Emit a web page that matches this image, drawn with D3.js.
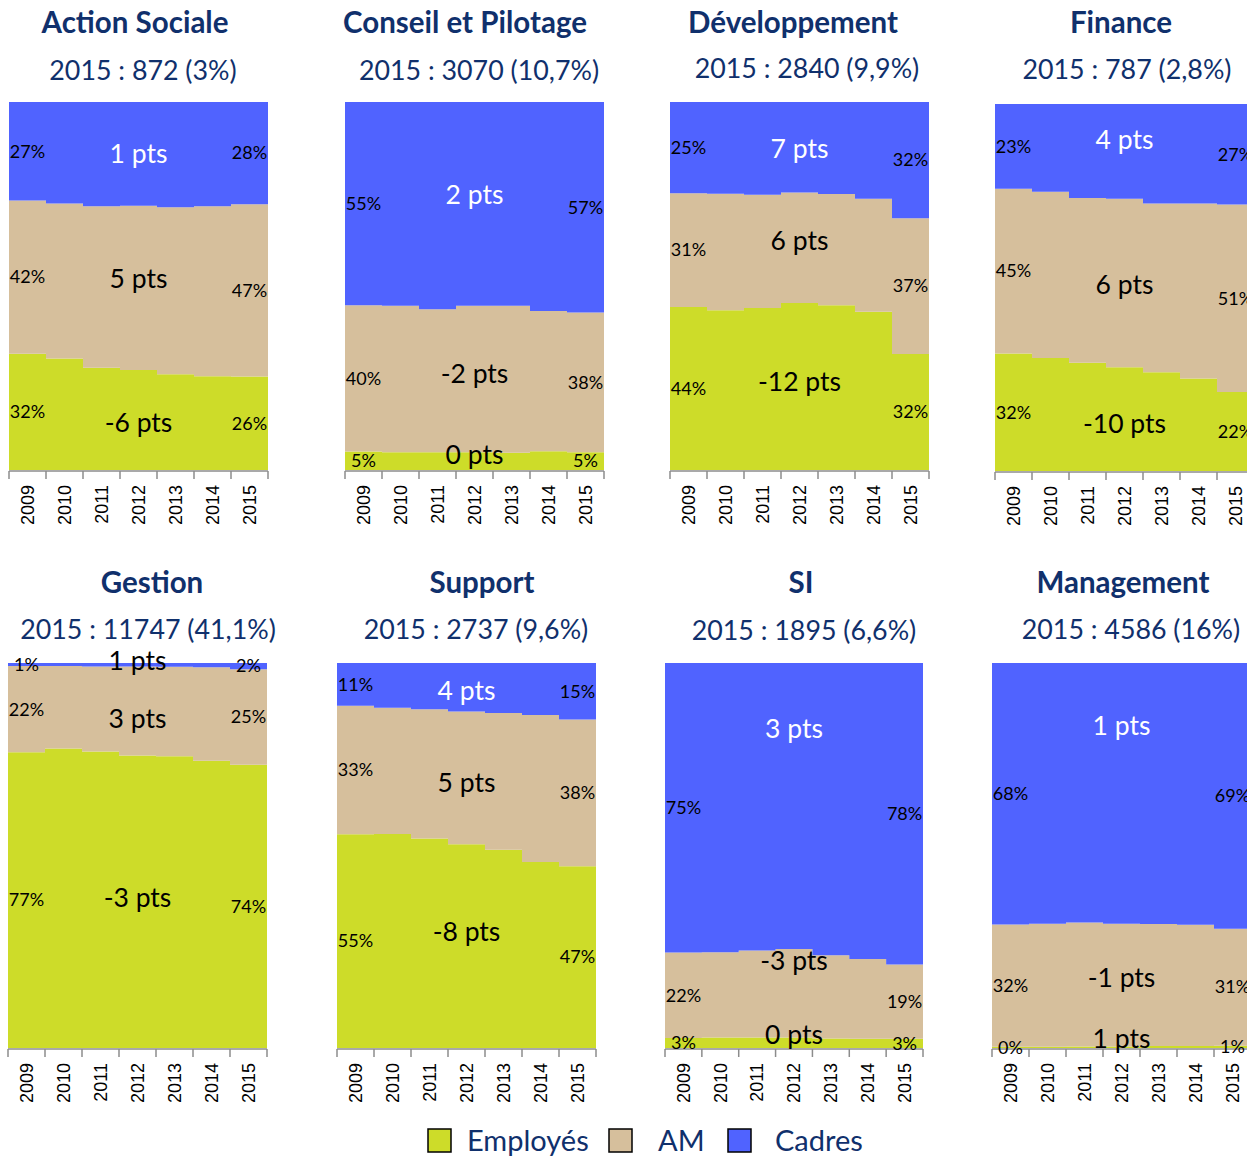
<!DOCTYPE html>
<html>
<head>
<meta charset="utf-8">
<script src="https://cdn.jsdelivr.net/npm/d3@7"></script>
<style>
  html, body { margin: 0; padding: 0; background: #fff; }
  svg { display: block; }
</style>
</head>
<body>
<svg id="chart" width="1247" height="1156"></svg>
<script>
// ---------------- DATA ----------------
const years = ["2009", "2010", "2011", "2012", "2013", "2014", "2015"];
const seriesNames = ["Employés", "AM", "Cadres"];
const titles = ["Action Sociale", "Conseil et Pilotage", "Développement", "Finance",
                "Gestion", "Support", "SI", "Management"];
const subtitles = ["2015 : 872 (3%)", "2015 : 3070 (10,7%)", "2015 : 2840 (9,9%)", "2015 : 787 (2,8%)",
                   "2015 : 11747 (41,1%)", "2015 : 2737 (9,6%)", "2015 : 1895 (6,6%)", "2015 : 4586 (16%)"];

// share (%) per panel, per year
const employes = [
  [31.6, 30.3, 27.8, 27.2, 26.0, 25.5, 25.4],
  [5.0, 4.8, 4.8, 4.8, 4.7, 5.1, 4.8],
  [44.3, 43.4, 44.0, 45.4, 44.8, 43.0, 31.5],
  [32.0, 30.8, 29.5, 28.3, 26.9, 25.2, 21.5],
  [76.8, 77.8, 77.0, 76.0, 75.8, 74.6, 73.6],
  [55.5, 55.6, 54.4, 52.9, 51.5, 48.3, 47.2],
  [2.6, 2.7, 2.7, 2.7, 2.5, 2.4, 2.4],
  [0.3, 0.3, 0.4, 0.4, 0.5, 0.5, 0.6]
];
const am = [
  [41.6, 42.1, 43.9, 44.6, 45.4, 46.2, 46.8],
  [39.8, 39.8, 38.9, 39.8, 39.9, 38.1, 38.0],
  [30.9, 31.7, 30.8, 30.0, 30.2, 30.7, 36.9],
  [44.9, 45.3, 44.9, 45.9, 46.0, 47.7, 51.1],
  [22.4, 21.4, 22.1, 23.1, 23.2, 24.3, 24.8],
  [33.4, 32.8, 33.6, 34.5, 35.5, 38.2, 38.1],
  [22.2, 22.2, 22.6, 23.0, 21.6, 20.7, 19.3],
  [31.8, 32.0, 32.2, 31.9, 31.7, 31.5, 30.4]
];
const cadres = [
  [26.8, 27.6, 28.3, 28.2, 28.6, 28.3, 27.8],
  [55.2, 55.4, 56.3, 55.4, 55.4, 56.8, 57.2],
  [24.8, 24.9, 25.2, 24.6, 25.0, 26.3, 31.6],
  [23.1, 23.9, 25.6, 25.8, 27.1, 27.1, 27.4],
  [0.8, 0.8, 0.9, 0.9, 1.0, 1.1, 1.6],
  [11.1, 11.6, 12.0, 12.6, 13.0, 13.5, 14.7],
  [75.2, 75.1, 74.7, 74.3, 75.9, 76.9, 78.3],
  [67.9, 67.7, 67.4, 67.7, 67.8, 68.0, 69.0]
];

// label texts [Employés, AM, Cadres]
const startLabels = [
  ["32%", "42%", "27%"], ["5%", "40%", "55%"], ["44%", "31%", "25%"], ["32%", "45%", "23%"],
  ["77%", "22%", "1%"], ["55%", "33%", "11%"], ["3%", "22%", "75%"], ["0%", "32%", "68%"]
];
const endLabels = [
  ["26%", "47%", "28%"], ["5%", "38%", "57%"], ["32%", "37%", "32%"], ["22%", "51%", "27%"],
  ["74%", "25%", "2%"], ["47%", "38%", "15%"], ["3%", "19%", "78%"], ["1%", "31%", "69%"]
];
const ptsLabels = [
  ["-6 pts", "5 pts", "1 pts"], ["0 pts", "-2 pts", "2 pts"], ["-12 pts", "6 pts", "7 pts"],
  ["-10 pts", "6 pts", "4 pts"], ["-3 pts", "3 pts", "1 pts"], ["-8 pts", "5 pts", "4 pts"],
  ["0 pts", "-3 pts", "3 pts"], ["1 pts", "-1 pts", "1 pts"]
];

// ---------------- LAYOUT / STYLE ----------------
const colors = { "Employés": "#cddc29", "AM": "#d6bf9c", "Cadres": "#5063ff" };
const navy = "#10306c";
const layout = [
  { x: 9,   y: 102, w: 259, h: 368, tx: 135,  ty: 23,  sx: 143,  sy: 71 },
  { x: 345, y: 102, w: 259, h: 368, tx: 465,  ty: 23,  sx: 479,  sy: 71 },
  { x: 670, y: 102, w: 259, h: 368, tx: 793,  ty: 23,  sx: 807,  sy: 69 },
  { x: 995, y: 104, w: 259, h: 367, tx: 1121, ty: 23,  sx: 1127, sy: 70 },
  { x: 8,   y: 663, w: 259, h: 385, tx: 152,  ty: 583, sx: 148,  sy: 630 },
  { x: 337, y: 663, w: 259, h: 385, tx: 482,  ty: 583, sx: 476,  sy: 630 },
  { x: 665, y: 663, w: 258, h: 385, tx: 801,  ty: 583, sx: 804,  sy: 631 },
  { x: 992, y: 663, w: 259, h: 385, tx: 1123, ty: 583, sx: 1131, sy: 630 }
];
// vertical position (fraction of plot height from top) of the "pts" labels [E, AM, C]
const ptsPos = [
  [0.872, 0.481, 0.141], [0.959, 0.739, 0.253], [0.760, 0.378, 0.128], [0.872, 0.493, 0.098],
  [0.610, 0.145, -0.005], [0.699, 0.312, 0.073], [0.966, 0.774, 0.171], [0.977, 0.818, 0.164]
];

const svg = d3.select("#chart");
const FONT = "Lato, 'Open Sans', sans-serif";

layout.forEach((L, p) => {
  const g = svg.append("g");
  const x = d3.scaleBand().domain(years).range([L.x, L.x + L.w]).padding(0);
  const y = d3.scaleLinear().domain([0, 100]).range([L.y + L.h, L.y]);

  const rows = years.map((yr, i) => ({ year: yr, "Employés": employes[p][i], "AM": am[p][i], "Cadres": cadres[p][i] }));
  const stacked = d3.stack().keys(seriesNames)(rows);

  const area = d3.area()
    .x(d => d.x).y0(d => y(d.v0)).y1(d => y(d.v1))
    .curve(d3.curveStepAfter);

  stacked.forEach(s => {
    const pts = s.map((d, i) => ({ x: x(years[i]), v0: d[0], v1: d[1] }));
    const last = s[s.length - 1];
    pts.push({ x: x(years[years.length - 1]) + x.bandwidth(), v0: last[0], v1: last[1] });
    g.append("path").attr("d", area(pts)).attr("fill", colors[s.key]);
  });

  // axis
  const axisY = L.y + L.h;
  const axisG = g.append("g").attr("transform", `translate(0,${axisY})`)
    .call(d3.axisBottom(x).tickSize(0).tickPadding(0));
  axisG.select(".domain").remove();
  axisG.selectAll("text")
    .attr("transform", "rotate(-90)")
    .attr("x", -15).attr("y", 0).attr("dy", "0.35em")
    .attr("text-anchor", "end")
    .attr("font-family", "'Liberation Sans', Arial, sans-serif")
    .attr("font-size", 18).attr("fill", "#000");
  g.append("line").attr("x1", L.x).attr("x2", L.x + L.w).attr("y1", axisY + 1).attr("y2", axisY + 1)
    .attr("stroke", "#8c8c8c").attr("stroke-width", 1.5);
  const bounds = years.map(yr => x(yr)).concat([L.x + L.w]);
  g.selectAll("line.tk").data(bounds).enter().append("line")
    .attr("x1", d => d).attr("x2", d => d).attr("y1", axisY + 1).attr("y2", axisY + 9)
    .attr("stroke", "#8c8c8c").attr("stroke-width", 1.5);

  // percent labels
  stacked.forEach((s, k) => {
    const f = s[0], l = s[s.length - 1], m = s[3];
    g.append("text").attr("x", x(years[0]) + x.bandwidth() / 2).attr("y", y((f[0] + f[1]) / 2))
      .attr("dy", "0.35em").attr("text-anchor", "middle")
      .attr("font-family", FONT).attr("font-size", 18).attr("fill", "#000")
      .text(startLabels[p][k]);
    g.append("text").attr("x", x(years[6]) + x.bandwidth() / 2).attr("y", y((l[0] + l[1]) / 2))
      .attr("dy", "0.35em").attr("text-anchor", "middle")
      .attr("font-family", FONT).attr("font-size", 18).attr("fill", "#000")
      .text(endLabels[p][k]);
    const white = s.key === "Cadres" && (m[1] - m[0]) > 5;
    g.append("text").attr("x", x(years[3]) + x.bandwidth() / 2).attr("y", L.y + ptsPos[p][k] * L.h)
      .attr("dy", "0.35em").attr("text-anchor", "middle")
      .attr("font-family", FONT).attr("font-size", 26.5)
      .attr("fill", white ? "#fff" : "#000")
      .text(ptsLabels[p][k]);
  });

  // titles
  svg.append("text").attr("x", L.tx).attr("y", L.ty).attr("dy", "0.35em").attr("text-anchor", "middle")
    .attr("font-family", FONT).attr("font-weight", "bold").attr("font-size", 29.5).attr("fill", navy)
    .text(titles[p]);
  svg.append("text").attr("x", L.sx).attr("y", L.sy).attr("dy", "0.35em").attr("text-anchor", "middle")
    .attr("font-family", FONT).attr("font-size", 26.8).attr("fill", navy)
    .text(subtitles[p]);
});

// legend
const legendPos = [{ sq: 428, tx: 467 }, { sq: 609, tx: 658 }, { sq: 728, tx: 775 }];
const lg = svg.append("g");
seriesNames.forEach((n, i) => {
  lg.append("rect").attr("x", legendPos[i].sq).attr("y", 1129).attr("width", 23).attr("height", 23)
    .attr("fill", colors[n]).attr("stroke", "#000").attr("stroke-width", 1.5);
  lg.append("text").attr("x", legendPos[i].tx).attr("y", 1141).attr("dy", "0.35em")
    .attr("font-family", FONT).attr("font-size", 29).attr("fill", navy).text(n);
});
</script>
</body>
</html>
